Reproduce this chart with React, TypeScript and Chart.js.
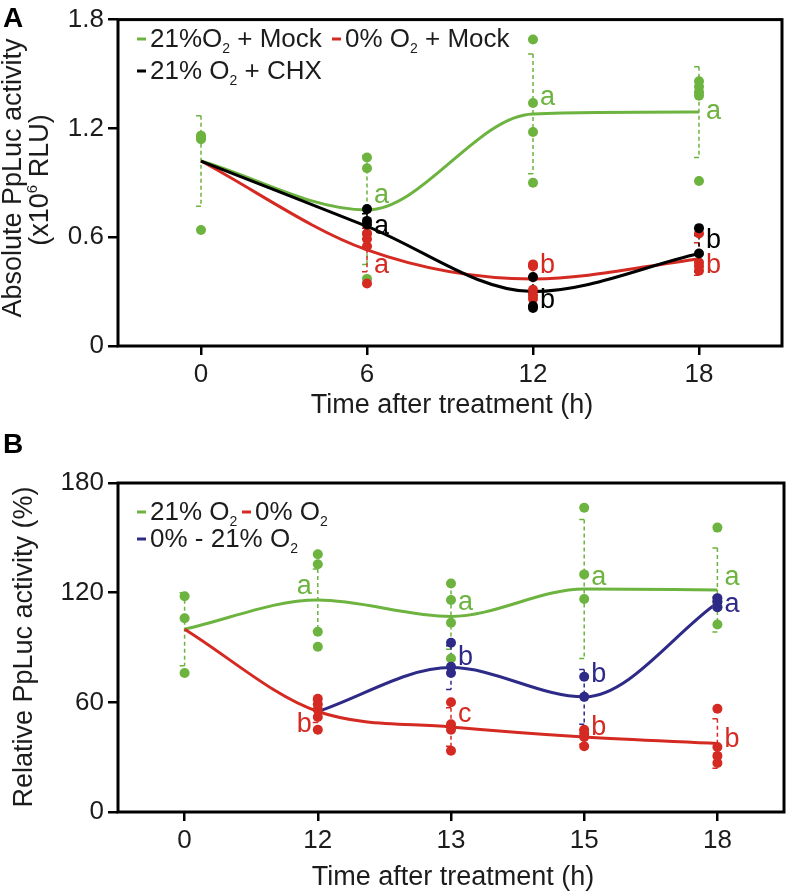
import React, { useEffect, useRef } from "react";
import { Chart, registerables } from "chart.js";
Chart.register(...registerables);

const FONT = '"Liberation Sans", Arial, Helvetica, sans-serif';
const GREEN = "#6db33f";
const RED = "#d42a22";
const BLUE = "#2e2a88";
const BLACK = "#000000";
const INK = "#1c1c1c";

// ---------------- Panel A data ----------------
const categoriesA = ["0", "6", "12", "18"];
const yTicksA = [0, 0.6, 1.2, 1.8];
const yTickLabelsA = ["0", "0.6", "1.2", "1.8"];

const mockMeanA = [1.02, 0.75, 1.28, 1.29];
const mockRepsA = [
  [1.16, 1.15, 1.14, 0.64],
  [1.04, 0.98, 0.62, 0.37],
  [1.69, 1.34, 1.18, 0.9],
  [1.46, 1.43, 1.4, 1.38, 0.91],
];
const mockErrA = [0.25, 0.3, 0.33, 0.25];

const anoxMeanA = [1.02, 0.53, 0.37, 0.48];
const anoxRepsA = [
  [],
  [0.62, 0.59, 0.55, 0.345],
  [0.45, 0.44, 0.31, 0.28, 0.26],
  [0.62, 0.46, 0.44, 0.415],
];
const anoxErrA = [0, 0.12, 0.08, 0.09];

const chxMeanA = [1.02, 0.66, 0.3, 0.51];
const chxRepsA = [[], [0.755, 0.69, 0.67], [0.38, 0.22, 0.21], [0.65, 0.51]];
const chxErrA = [0, 0.07, 0.08, 0.1];

// letters: series index (0 mock, 1 0% O2, 2 CHX), category index, letter, value
const lettersA = [
  { s: 0, i: 1, t: "a", v: 0.79 },
  { s: 2, i: 1, t: "a", v: 0.62 },
  { s: 1, i: 1, t: "a", v: 0.405 },
  { s: 0, i: 2, t: "a", v: 1.33 },
  { s: 1, i: 2, t: "b", v: 0.4 },
  { s: 2, i: 2, t: "b", v: 0.21 },
  { s: 0, i: 3, t: "a", v: 1.25 },
  { s: 2, i: 3, t: "b", v: 0.54 },
  { s: 1, i: 3, t: "b", v: 0.405 },
];

// ---------------- Panel B data ----------------
const categoriesB = ["0", "12", "13", "15", "18"];
const yTicksB = [0, 60, 120, 180];
const yTickLabelsB = ["0", "60", "120", "180"];

const normMeanB = [100, 116, 107, 122, 121.5];
const normRepsB = [
  [118, 106, 76],
  [141, 135.5, 98.6, 90.4],
  [125, 116, 103.5, 84],
  [166.5, 130, 116.5],
  [155.6, 115, 112, 102.6],
];
const normErrB = [20, 17, 18, 38, 23];

const anoxMeanB = [100, 55, 46.5, 41, 37.5];
const anoxRepsB = [
  [],
  [62, 59, 56, 52, 45],
  [60, 48, 45, 33.5],
  [45, 43, 41, 36],
  [56.5, 35.6, 30.7, 26.8],
];
const anoxErrB = [0, 6, 10.5, 4, 13.5];

const reoxMeanB = [null, 55, 79, 63, 114.5];
const reoxRepsB = [[], [], [92.6, 79.5, 76], [74, 63], [117, 115, 112]];
const reoxErrB = [0, 0, 12, 15, 3];

// letters: series index (0 21%, 1 0%, 2 0%-21%)
const lettersB = [
  { s: 0, i: 1, t: "a", v: 119 },
  { s: 1, i: 1, t: "b", v: 43.8 },
  { s: 0, i: 2, t: "a", v: 110.7 },
  { s: 2, i: 2, t: "b", v: 80.5 },
  { s: 1, i: 2, t: "c", v: 49.3 },
  { s: 0, i: 3, t: "a", v: 124.4 },
  { s: 2, i: 3, t: "b", v: 71.2 },
  { s: 1, i: 3, t: "b", v: 42.2 },
  { s: 0, i: 4, t: "a", v: 124.4 },
  { s: 2, i: 4, t: "a", v: 109.6 },
  { s: 1, i: 4, t: "b", v: 35.6 },
];
const leftLettersB = [0, 1];

type Part = { t: string; sub?: boolean; sup?: boolean };

function partFont(p: Part, size: number) {
  return `${p.sub || p.sup ? Math.round(size * 0.55) : size}px ${FONT}`;
}
function richWidth(ctx: CanvasRenderingContext2D, parts: Part[], size: number) {
  let w = 0;
  for (const p of parts) {
    ctx.font = partFont(p, size);
    w += ctx.measureText(p.t).width;
  }
  return w;
}
function drawRich(
  ctx: CanvasRenderingContext2D,
  parts: Part[],
  x: number,
  y: number,
  size: number,
  color: string,
  align: string = "left"
) {
  const w = richWidth(ctx, parts, size);
  let cx = align === "center" ? x - w / 2 : align === "right" ? x - w : x;
  ctx.fillStyle = color;
  ctx.textAlign = "left";
  ctx.textBaseline = "alphabetic";
  for (const p of parts) {
    ctx.font = partFont(p, size);
    const dy = p.sub ? size * 0.22 : p.sup ? -size * 0.42 : 0;
    ctx.fillText(p.t, cx, y + dy);
    cx += ctx.measureText(p.t).width;
  }
  return w;
}

function buildChart(canvas: HTMLCanvasElement, p: any) {
  const datasets: any[] = [];
  p.series.forEach((s: any, k: number) => {
    datasets.push({
      type: "line",
      data: s.mean
        .map((m: number | null, i: number) => (m == null ? null : { x: p.labels[i], y: m }))
        .filter((d: any) => d),
      borderColor: s.color,
      borderWidth: 3,
      pointRadius: 0,
      cubicInterpolationMode: "monotone",
      fill: false,
      order: 100 - k,
    });
    datasets.push({
      type: "scatter",
      data: s.reps.flatMap((arr: number[], i: number) => arr.map((v) => ({ x: p.labels[i], y: v }))),
      backgroundColor: s.color,
      borderWidth: 0,
      pointRadius: 5,
      showLine: false,
      order: 50 - k,
    });
  });

  const decor = {
    id: "decor",
    beforeDatasetsDraw(chart: any) {
      const { ctx, scales } = chart;
      const xs = scales.x;
      const ys = scales.y;
      ctx.save();
      p.series.forEach((s: any) => {
        s.err.forEach((e: number, i: number) => {
          if (!e || s.mean[i] == null) return;
          const px = xs.getPixelForValue(i);
          const y1 = ys.getPixelForValue(s.mean[i] + e);
          const y2 = ys.getPixelForValue(s.mean[i] - e);
          ctx.strokeStyle = s.color;
          ctx.lineWidth = 1.5;
          ctx.setLineDash([4, 3]);
          ctx.beginPath();
          ctx.moveTo(px, y1);
          ctx.lineTo(px, y2);
          ctx.stroke();
          ctx.setLineDash([]);
          ctx.beginPath();
          ctx.moveTo(px - 5, y1);
          ctx.lineTo(px, y1);
          ctx.moveTo(px - 5, y2);
          ctx.lineTo(px, y2);
          ctx.stroke();
        });
      });
      ctx.restore();
    },
    afterDatasetsDraw(chart: any) {
      const { ctx, scales } = chart;
      ctx.save();
      p.letters.forEach((L: any, n: number) => {
        const px = scales.x.getPixelForValue(L.i);
        const py = scales.y.getPixelForValue(L.v);
        const left = p.leftLetters.includes(n);
        ctx.font = `27px ${FONT}`;
        ctx.fillStyle = p.series[L.s].color;
        ctx.textBaseline = "alphabetic";
        ctx.textAlign = left ? "right" : "left";
        ctx.fillText(L.t, left ? px - 6 : px + 7, py);
      });
      ctx.restore();
    },
    afterDraw(chart: any) {
      const { ctx, chartArea } = chart;
      ctx.save();
      ctx.strokeStyle = "#000";
      ctx.lineWidth = 3;
      ctx.setLineDash([]);
      ctx.strokeRect(chartArea.left, chartArea.top, chartArea.right - chartArea.left, chartArea.bottom - chartArea.top);
      // panel label
      ctx.font = `bold 28px ${FONT}`;
      ctx.fillStyle = "#000";
      ctx.textAlign = "left";
      ctx.textBaseline = "alphabetic";
      ctx.fillText(p.panel.text, p.panel.x, p.panel.y);
      // y titles
      p.yTitle.forEach((yt: any) => {
        ctx.save();
        ctx.translate(yt.x, yt.y);
        ctx.rotate(-Math.PI / 2);
        drawRich(ctx, yt.parts, 0, 0, 27, INK, "center");
        ctx.restore();
      });
      // x title
      drawRich(ctx, [{ t: p.xTitle.text }], p.xTitle.x, p.xTitle.y, 27, INK, "center");
      // legend
      p.legend.forEach((row: any) => {
        row.items.forEach((it: any) => {
          ctx.strokeStyle = it.color;
          ctx.lineWidth = 3;
          ctx.beginPath();
          ctx.moveTo(it.x, row.y - 8);
          ctx.lineTo(it.x + 9, row.y - 8);
          ctx.stroke();
          drawRich(ctx, it.parts, it.x + 13, row.y, 26, INK, "left");
        });
      });
      ctx.restore();
    },
  };

  return new Chart(canvas, {
    type: "line",
    data: { labels: p.labels, datasets },
    options: {
      animation: false,
      responsive: false,
      devicePixelRatio: 1,
      layout: { padding: { left: 0, top: p.area.top, right: p.width - p.area.right, bottom: 0 } },
      plugins: { legend: { display: false }, tooltip: { enabled: false } },
      scales: {
        x: {
          type: "category",
          labels: p.labels,
          offset: true,
          border: { display: false },
          grid: { offset: false, drawOnChartArea: false, drawTicks: true, tickLength: 9, color: "#000", lineWidth: 2.5 },
          ticks: { font: { family: FONT, size: 26 }, color: INK, padding: 4, maxRotation: 0, autoSkip: false },
          afterFit: (s: any) => {
            s.height = p.height - p.area.bottom;
          },
        },
        y: {
          type: "linear",
          min: p.yMin,
          max: p.yMax,
          border: { display: false },
          grid: { drawOnChartArea: false, drawTicks: true, tickLength: 10, color: "#000", lineWidth: 2.5 },
          ticks: {
            font: { family: FONT, size: 26 },
            color: INK,
            padding: 4,
            callback: (v: number) => p.yTickLabels[p.yTicks.indexOf(v)] ?? String(v),
          },
          afterBuildTicks: (s: any) => {
            s.ticks = p.yTicks.map((v: number) => ({ value: v }));
          },
          afterFit: (s: any) => {
            s.width = p.area.left;
          },
        },
      },
    },
    plugins: [decor],
  } as any);
}

const sub2: Part = { t: "2", sub: true };

const panelA = {
  width: 789,
  height: 430,
  area: { left: 118, right: 782, top: 17, bottom: 346 },
  labels: categoriesA,
  yMin: 0,
  yMax: 1.8,
  yTicks: yTicksA,
  yTickLabels: yTickLabelsA,
  series: [
    { color: GREEN, mean: mockMeanA, reps: mockRepsA, err: mockErrA },
    { color: RED, mean: anoxMeanA, reps: anoxRepsA, err: anoxErrA },
    { color: BLACK, mean: chxMeanA, reps: chxRepsA, err: chxErrA },
  ],
  letters: lettersA,
  leftLetters: [] as number[],
  panel: { text: "A", x: 3, y: 27 },
  yTitle: [
    { parts: [{ t: "Absolute PpLuc activity" }], x: 21, y: 178 },
    { parts: [{ t: "(x10" }, { t: "6", sup: true }, { t: " RLU)" }], x: 48, y: 180 },
  ],
  xTitle: { text: "Time after treatment (h)", x: 452, y: 413 },
  legend: [
    {
      y: 47,
      items: [
        { color: GREEN, x: 137, parts: [{ t: "21%O" }, sub2, { t: " + Mock" }] },
        { color: RED, x: 332, parts: [{ t: "0% O" }, sub2, { t: " + Mock" }] },
      ],
    },
    { y: 79, items: [{ color: BLACK, x: 137, parts: [{ t: "21% O" }, sub2, { t: " + CHX" }] }] },
  ],
};

const panelB = {
  width: 789,
  height: 462,
  area: { left: 118, right: 784, top: 53, bottom: 382 },
  labels: categoriesB,
  yMin: 0,
  yMax: 180,
  yTicks: yTicksB,
  yTickLabels: yTickLabelsB,
  series: [
    { color: GREEN, mean: normMeanB, reps: normRepsB, err: normErrB },
    { color: RED, mean: anoxMeanB, reps: anoxRepsB, err: anoxErrB },
    { color: BLUE, mean: reoxMeanB, reps: reoxRepsB, err: reoxErrB },
  ],
  letters: lettersB,
  leftLetters: leftLettersB,
  panel: { text: "B", x: 3, y: 23 },
  yTitle: [{ parts: [{ t: "Relative PpLuc activity (%)" }], x: 32, y: 217 }],
  xTitle: { text: "Time after treatment (h)", x: 453, y: 455 },
  legend: [
    {
      y: 90,
      items: [
        { color: GREEN, x: 137, parts: [{ t: "21% O" }, sub2] },
        { color: RED, x: 242, parts: [{ t: "0% O" }, sub2] },
      ],
    },
    { y: 117, items: [{ color: BLUE, x: 137, parts: [{ t: "0% - 21% O" }, sub2] }] },
  ],
};

export default function App() {
  const refA = useRef<HTMLCanvasElement>(null);
  const refB = useRef<HTMLCanvasElement>(null);
  useEffect(() => {
    const a = buildChart(refA.current as HTMLCanvasElement, panelA);
    const b = buildChart(refB.current as HTMLCanvasElement, panelB);
    return () => {
      a.destroy();
      b.destroy();
    };
  }, []);
  return (
    <div style={{ position: "absolute", left: 0, top: 0, width: 789, height: 892, background: "#fff" }}>
      <canvas ref={refA} width={789} height={430} style={{ position: "absolute", left: 0, top: 0, display: "block" }} />
      <canvas ref={refB} width={789} height={462} style={{ position: "absolute", left: 0, top: 430, display: "block" }} />
    </div>
  );
}
